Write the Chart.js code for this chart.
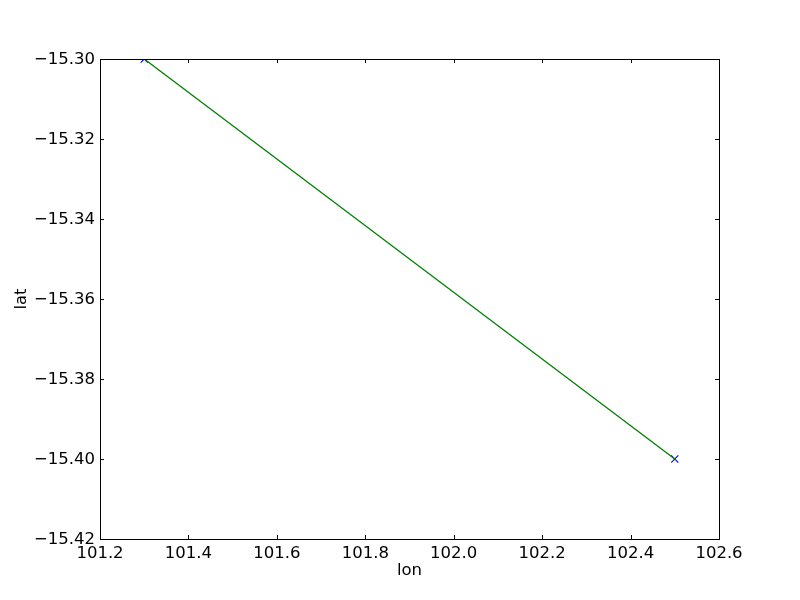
<!DOCTYPE html>
<html>
<head>
<meta charset="utf-8">
<script src="https://cdn.jsdelivr.net/npm/chart.js@4/dist/chart.umd.min.js"></script>
<style>
  body { margin: 0; background: #fff; }
  #wrap { width: 800px; height: 600px; }
</style>
</head>
<body>
<div id="wrap"><canvas id="trackChart"></canvas></div>
<script>
// track data (lon / lat)
const lonValues = [101.3, 102.5];
const latValues = [-15.30, -15.40];
const xTicks = [101.2, 101.4, 101.6, 101.8, 102.0, 102.2, 102.4, 102.6];
const yTicks = [-15.42, -15.40, -15.38, -15.36, -15.34, -15.32, -15.30];

const points = lonValues.map((x, i) => ({ x, y: latValues[i] }));
const fontSpec = { family: 'DejaVu Sans', size: 16.5 };
const fmt = (v, d) => v.toFixed(d).replace('-', '\u2212');

// matplotlib style box + inward ticks
const frameBox = {
  id: 'frameBox',
  afterDraw(chart) {
    const { ctx, chartArea: a } = chart;
    const xs = chart.scales.x, ys = chart.scales.y;
    ctx.save();
    ctx.strokeStyle = '#000';
    ctx.lineWidth = 1;
    ctx.strokeRect(a.left + 0.5, a.top + 0.5, a.right - a.left, a.bottom - a.top);
    ctx.beginPath();
    xTicks.forEach(v => {
      const px = Math.round(xs.getPixelForValue(v)) + 0.5;
      ctx.moveTo(px, a.bottom); ctx.lineTo(px, a.bottom - 4);
      ctx.moveTo(px, a.top); ctx.lineTo(px, a.top + 4);
    });
    yTicks.forEach(v => {
      const py = Math.round(ys.getPixelForValue(v)) + 0.5;
      ctx.moveTo(a.left, py); ctx.lineTo(a.left + 4, py);
      ctx.moveTo(a.right, py); ctx.lineTo(a.right - 4, py);
    });
    ctx.stroke();
    ctx.restore();
  }
};

new Chart(document.getElementById('trackChart'), {
  type: 'scatter',
  data: {
    datasets: [
      {
        label: 'line',
        data: points,
        showLine: true,
        borderColor: '#008000',
        borderWidth: 1.3,
        pointRadius: 0,
        fill: false
      },
      {
        label: 'markers',
        data: points,
        showLine: false,
        pointStyle: 'crossRot',
        pointRadius: 5,
        borderColor: '#0000ff',
        backgroundColor: '#0000ff',
        borderWidth: 1.1
      }
    ]
  },
  options: {
    responsive: true,
    maintainAspectRatio: false,
    animation: false,
    layout: { padding: { top: 59, right: 81, left: 0, bottom: 0 } },
    plugins: {
      legend: { display: false },
      tooltip: { enabled: false }
    },
    scales: {
      x: {
        type: 'linear',
        min: 101.2,
        max: 102.6,
        afterBuildTicks: s => { s.ticks = xTicks.map(v => ({ value: v })); },
        afterFit: s => { s.height = 61; },
        grid: { display: false, drawTicks: false },
        border: { display: false },
        ticks: {
          color: '#000',
          font: fontSpec,
          padding: 5,
          maxRotation: 0,
          autoSkip: false,
          callback: v => fmt(v, 1)
        },
        title: {
          display: true,
          text: 'lon',
          color: '#000',
          font: fontSpec,
          padding: { top: 0, bottom: 19 }
        }
      },
      y: {
        type: 'linear',
        min: -15.42,
        max: -15.30,
        afterBuildTicks: s => { s.ticks = yTicks.map(v => ({ value: v })); },
        afterFit: s => { s.width = 100; },
        grid: { display: false, drawTicks: false },
        border: { display: false },
        ticks: {
          color: '#000',
          font: fontSpec,
          padding: 5,
          labelOffset: 1,
          autoSkip: false,
          callback: v => fmt(v, 2)
        },
        title: {
          display: true,
          text: 'lat',
          color: '#000',
          font: fontSpec,
          padding: { top: 12, bottom: 12 }
        }
      }
    }
  },
  plugins: [frameBox]
});
</script>
</body>
</html>
